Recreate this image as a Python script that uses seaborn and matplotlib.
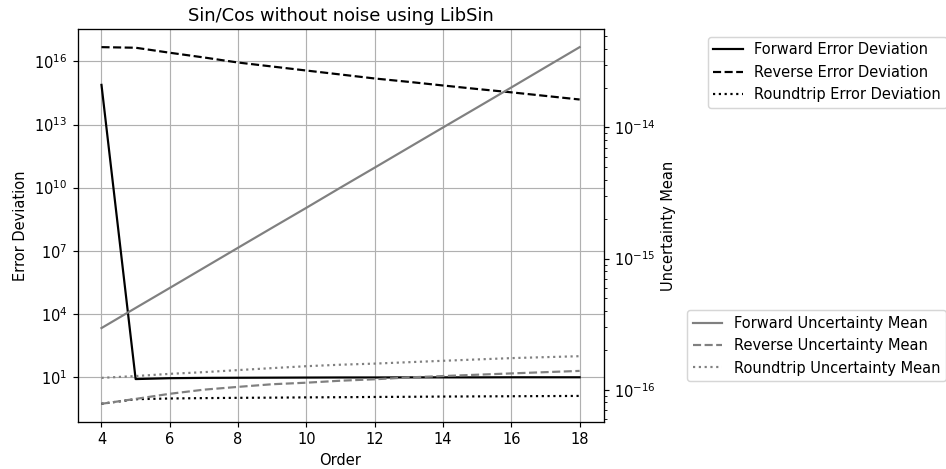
#!/usr/bin/env python3

import matplotlib
matplotlib.use('Agg')
import seaborn as sns
from matplotlib import pyplot as plt

order = [4, 5, 6, 7, 8, 9, 10, 11, 12, 13, 14, 15, 16, 17, 18]

# error deviation (left axis)
forward_err = [7.7e14, 7.8, 8.6, 8.9, 9.0, 9.1, 9.2, 9.3, 9.3, 9.4, 9.4, 9.4, 9.5, 9.5, 9.5]
reverse_err = [4.8e16, 4.5e16, 2.6e16, 1.55e16, 8.9e15, 5.75e15, 3.7e15, 2.4e15,
               1.55e15, 1.07e15, 7.2e14, 4.9e14, 3.4e14, 2.3e14, 1.55e14]
roundtrip_err = [0.52, 0.86, 0.93, 0.97, 1.0, 1.02, 1.05, 1.07, 1.1, 1.12, 1.15,
                 1.17, 1.19, 1.21, 1.23]

# uncertainty mean (right axis)
forward_unc = [2.95e-16, 4.2e-16, 5.97e-16, 8.5e-16, 1.21e-15, 1.72e-15, 2.44e-15,
               3.48e-15, 4.94e-15, 7.03e-15, 1.0e-14, 1.42e-14, 2.02e-14, 2.88e-14, 4.1e-14]
reverse_unc = [7.8e-17, 8.5e-17, 9.3e-17, 1.0e-16, 1.05e-16, 1.1e-16, 1.13e-16,
               1.17e-16, 1.2e-16, 1.24e-16, 1.27e-16, 1.3e-16, 1.33e-16, 1.36e-16, 1.39e-16]
roundtrip_unc = [1.23e-16, 1.27e-16, 1.32e-16, 1.36e-16, 1.41e-16, 1.46e-16, 1.51e-16,
                 1.55e-16, 1.58e-16, 1.62e-16, 1.66e-16, 1.70e-16, 1.74e-16, 1.77e-16, 1.80e-16]

dpi = 105
fig = plt.figure(figsize=(946 / dpi, 469 / dpi), dpi=dpi)
ax = fig.add_subplot(1, 1, 1)
fig.subplots_adjust(left=0.082, right=0.638, top=0.9375, bottom=0.101)
ax2 = ax.twinx()

for y, ls, lab in [(forward_err, '-', 'Forward Error Deviation'),
                   (reverse_err, '--', 'Reverse Error Deviation'),
                   (roundtrip_err, ':', 'Roundtrip Error Deviation')]:
    sns.lineplot(x=order, y=y, ax=ax, color='black', linestyle=ls, label=lab, legend=False)

for y, ls, lab in [(forward_unc, '-', 'Forward Uncertainty Mean'),
                   (reverse_unc, '--', 'Reverse Uncertainty Mean'),
                   (roundtrip_unc, ':', 'Roundtrip Uncertainty Mean')]:
    sns.lineplot(x=order, y=y, ax=ax2, color='gray', linestyle=ls, label=lab, legend=False)

ax.set_yscale('log')
ax2.set_yscale('log')
ax.grid(True)
ax.set_xlabel('Order')
ax.set_ylabel('Error Deviation')
ax2.set_ylabel('Uncertainty Mean')
ax.set_title('Sin/Cos without noise using LibSin', fontsize=12.3)

h1, l1 = ax.get_legend_handles_labels()
h2, l2 = ax2.get_legend_handles_labels()
ax.legend(h1, l1, loc='upper left', bbox_to_anchor=(1.184, 1.0))
ax2.legend(h2, l2, loc='lower left', bbox_to_anchor=(1.145, 0.084))

fig.savefig('out.png', dpi=dpi)
